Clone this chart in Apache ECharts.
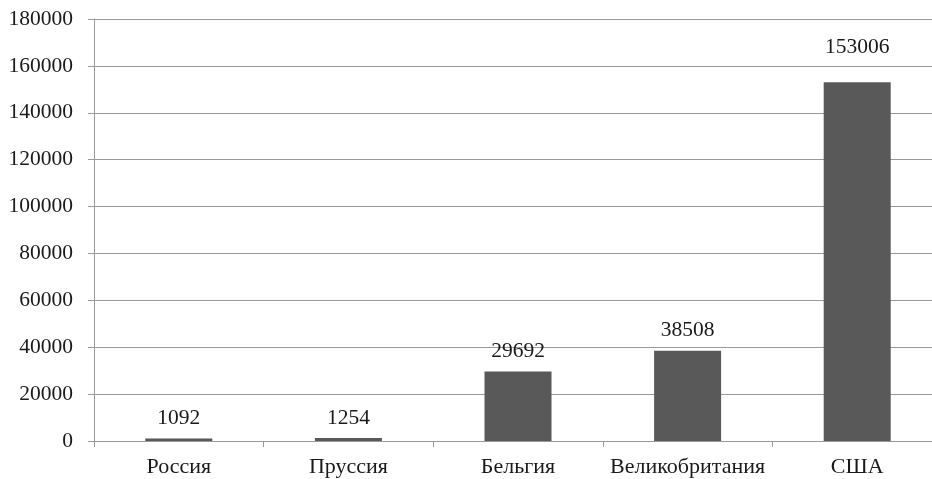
<!DOCTYPE html>
<html>
<head>
<meta charset="utf-8">
<script src="https://cdn.jsdelivr.net/npm/echarts@6/dist/echarts.min.js"></script>
<style>html,body{margin:0;padding:0;background:#fff;overflow:hidden;width:932px;height:479px;}#c{width:942px;height:479px;}</style>
</head>
<body>
<div id="c"></div>
<script>
const categories = ['Россия', 'Пруссия', 'Бельгия', 'Великобритания', 'США'];
const values = [1092, 1254, 29692, 38508, 153006];
const yTicks = { min: 0, max: 180000, interval: 20000 };

const chart = echarts.init(document.getElementById('c'), null, { renderer: 'canvas' });
const FONT = '"Liberation Serif", "Times New Roman", serif';
const data = values.map((v, i) => {
  const item = { value: v };
  if (i === 4) item.label = { distance: 24 };
  return item;
});
chart.setOption({
  animation: false,
  backgroundColor: '#ffffff',
  grid: { left: 94, right: 0, top: 19, bottom: 38, containLabel: false },
  xAxis: {
    type: 'category',
    data: categories,
    boundaryGap: true,
    axisLine: { lineStyle: { color: '#999999', width: 1 } },
    axisTick: { show: true, length: 6, interval: 0, lineStyle: { color: '#999999' }, alignWithLabel: false },
    axisLabel: { interval: 0, color: '#1a1a1a', fontFamily: FONT, fontSize: 22, margin: 15 },
    splitLine: { show: false }
  },
  yAxis: {
    type: 'value',
    min: yTicks.min, max: yTicks.max, interval: yTicks.interval,
    axisLine: { show: true, lineStyle: { color: '#999999', width: 1 } },
    axisTick: { show: true, length: 6, lineStyle: { color: '#999999' } },
    axisLabel: { color: '#1a1a1a', fontFamily: FONT, fontSize: 21.5, margin: 21, formatter: v => String(v) },
    splitLine: { show: true, lineStyle: { color: '#999999', width: 1 } }
  },
  series: [{
    type: 'bar',
    data: data,
    barWidth: 67,
    itemStyle: { color: '#595959' },
    label: {
      show: true, position: 'top', distance: 9,
      color: '#1a1a1a', fontFamily: FONT, fontSize: 21.5
    }
  }]
});
</script>
</body>
</html>
